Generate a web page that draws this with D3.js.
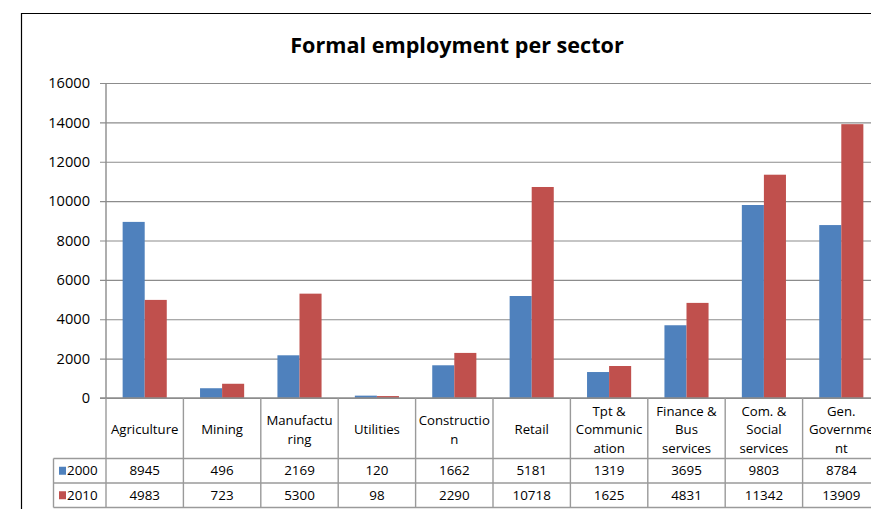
<!DOCTYPE html>
<html>
<head>
<meta charset="utf-8">
<script src="https://cdn.jsdelivr.net/npm/d3@7"></script>
<style>
  html, body { margin: 0; padding: 0; background: #fff; }
  svg { display: block; }
  text { font-family: "Open Sans", "Liberation Sans", sans-serif; fill: #000; }
</style>
</head>
<body>
<svg id="chart" width="871" height="509"></svg>
<script>
// Sector names as printed in the data table (line breaks as laid out in the cells)
const categories = [
  ["Agriculture"],
  ["Mining"],
  ["Manufactu", "ring"],
  ["Utilities"],
  ["Constructio", "n"],
  ["Retail"],
  ["Tpt &", "Communic", "ation"],
  ["Finance &", "Bus", "services"],
  ["Com. &", "Social", "services"],
  ["Gen.", "Governme", "nt"]
];
const seriesNames = ["2000", "2010"];
const values2000 = [8945, 496, 2169, 120, 1662, 5181, 1319, 3695, 9803, 8784];
const values2010 = [4983, 723, 5300, 98, 2290, 10718, 1625, 4831, 11342, 13909];
const yTicks = [0, 2000, 4000, 6000, 8000, 10000, 12000, 14000, 16000];
const colors = ["#4F81BD", "#C0504D"];

const series = [values2000, values2010];
const svg = d3.select("#chart");

// Plot geometry
const plotLeft = 106, plotTop = 83, plotBottom = 398;
const step = 77.4;
const plotRight = plotLeft + step * categories.length;

// Outer chart frame (continues past the right edge)
svg.append("path")
  .attr("d", `M21.5,${509} L21.5,13.5 L${871},13.5`)
  .attr("fill", "none").attr("stroke", "#000").attr("stroke-width", 1.2);

// Title
svg.append("text")
  .attr("x", 457).attr("y", 53)
  .attr("text-anchor", "middle")
  .style("font-size", "21.6px").style("font-weight", "bold")
  .text("Formal employment per sector");

const y = d3.scaleLinear().domain([0, 16000]).range([plotBottom, plotTop]);
const x0 = d3.scaleBand()
  .domain(d3.range(categories.length))
  .range([plotLeft, plotRight])
  .paddingInner(0.43).paddingOuter(0.215);
const x1 = d3.scaleBand().domain(d3.range(series.length)).range([0, x0.bandwidth()]);

// Gridlines with tick marks to the left of the axis
const yAxis = d3.axisLeft(y).tickValues(yTicks)
  .tickSize(-(plotRight - plotLeft)).tickPadding(10).tickFormat(d3.format("d"));
const gy = svg.append("g").attr("transform", `translate(${plotLeft},0)`).call(yAxis);
gy.select(".domain").remove();
gy.selectAll(".tick line").attr("stroke", "#8c8c8c").attr("stroke-width", 1.2)
  .attr("x1", -6);
gy.selectAll(".tick text").style("font-size", "14.6px").attr("fill", "#000")
  .attr("x", -16);

// Bars
const groups = svg.append("g").selectAll("g")
  .data(categories.map((c, i) => i))
  .join("g")
  .attr("transform", i => `translate(${x0(i)},0)`);
groups.selectAll("rect")
  .data(i => series.map((s, k) => ({ k, v: s[i] })))
  .join("rect")
  .attr("x", d => x1(d.k))
  .attr("width", x1.bandwidth())
  .attr("y", d => y(d.v))
  .attr("height", d => plotBottom - y(d.v))
  .attr("fill", d => colors[d.k]);

// Vertical axis line
svg.append("line")
  .attr("x1", plotLeft).attr("x2", plotLeft)
  .attr("y1", plotTop).attr("y2", plotBottom)
  .attr("stroke", "#8c8c8c").attr("stroke-width", 1.4);

// Data table under the axis
const rowHeader = 458.5, row1 = 483, row2 = 507.5;
const tableLeft = 53.5;
const gridColor = "#9a9a9a";
const table = svg.append("g");

// Horizontal rules
table.append("line").attr("x1", plotLeft - 6).attr("x2", plotRight)
  .attr("y1", plotBottom).attr("y2", plotBottom)
  .attr("stroke", "#8c8c8c").attr("stroke-width", 1.4);
[rowHeader, row1, row2].forEach(yy => {
  table.append("line").attr("x1", tableLeft).attr("x2", plotRight)
    .attr("y1", yy).attr("y2", yy).attr("stroke", gridColor).attr("stroke-width", 1.4);
});
// Vertical rules between categories
d3.range(categories.length + 1).forEach(i => {
  const xx = plotLeft + i * step;
  table.append("line").attr("x1", xx).attr("x2", xx)
    .attr("y1", plotBottom).attr("y2", row2)
    .attr("stroke", gridColor).attr("stroke-width", 1.4);
});
table.append("line").attr("x1", tableLeft).attr("x2", tableLeft)
  .attr("y1", rowHeader).attr("y2", row2)
  .attr("stroke", gridColor).attr("stroke-width", 1.4);

// Category header cells
const headerMid = (plotBottom + rowHeader) / 2 + 1.5;
const lineGap = 18.5;
categories.forEach((lines, i) => {
  const cx = plotLeft + (i + 0.5) * step;
  const t = table.append("text")
    .attr("text-anchor", "middle")
    .style("font-size", "13.2px");
  lines.forEach((ln, j) => {
    t.append("tspan")
      .attr("x", cx)
      .attr("y", headerMid + (j - (lines.length - 1) / 2) * lineGap)
      .attr("dy", "0.35em")
      .text(ln);
  });
});

// Value rows with legend keys
const rowMids = [(rowHeader + row1) / 2, (row1 + row2) / 2];
series.forEach((s, k) => {
  table.append("rect")
    .attr("x", 59).attr("y", rowMids[k] - 4)
    .attr("width", 7).attr("height", 8)
    .attr("fill", colors[k]);
  table.append("text")
    .attr("x", 67).attr("y", rowMids[k]).attr("dy", "0.35em")
    .style("font-size", "13.4px")
    .text(seriesNames[k]);
  s.forEach((v, i) => {
    table.append("text")
      .attr("x", plotLeft + (i + 0.5) * step)
      .attr("y", rowMids[k]).attr("dy", "0.35em")
      .attr("text-anchor", "middle")
      .style("font-size", "13.4px")
      .text(v);
  });
});
</script>
</body>
</html>
